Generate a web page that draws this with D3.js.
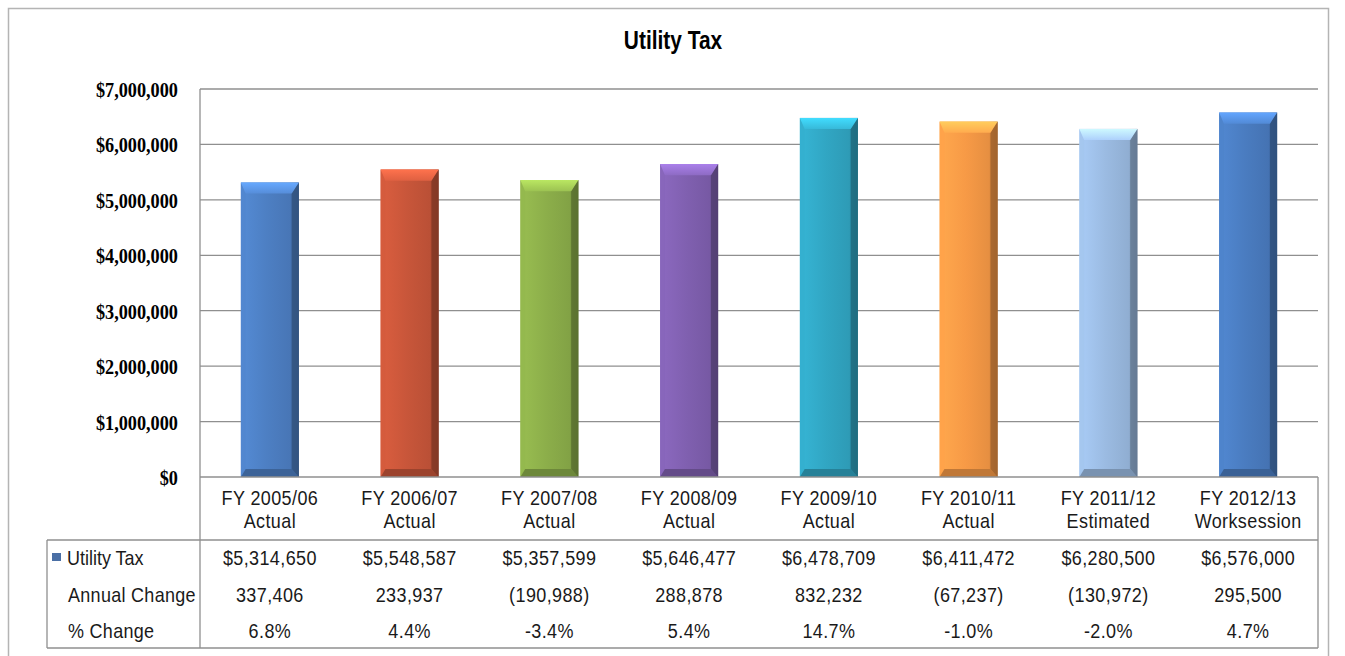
<!DOCTYPE html>
<html>
<head>
<meta charset="utf-8">
<script src="https://cdn.jsdelivr.net/npm/d3@7"></script>
<style>
  html, body { margin: 0; padding: 0; background: #ffffff; }
  svg { display: block; }
</style>
</head>
<body>
<svg id="chart" width="1345" height="656"></svg>
<script>
// Fiscal years and their budget status
const years = ["FY 2005/06", "FY 2006/07", "FY 2007/08", "FY 2008/09", "FY 2009/10", "FY 2010/11", "FY 2011/12", "FY 2012/13"];
const statuses = ["Actual", "Actual", "Actual", "Actual", "Actual", "Actual", "Estimated", "Worksession"];

// Utility tax revenue per year (dollars)
const utilityTax = [5314650, 5548587, 5357599, 5646477, 6478709, 6411472, 6280500, 6576000];
// Change from the prior year (dollars)
const annualChange = [337406, 233937, -190988, 288878, 832232, -67237, -130972, 295500];
// Change from the prior year (percent)
const pctChange = [6.8, 4.4, -3.4, 5.4, 14.7, -1.0, -2.0, 4.7];

// Y axis ticks
const yTicks = [0, 1000000, 2000000, 3000000, 4000000, 5000000, 6000000, 7000000];

// One colour per bar
const barColors = ["#4d7fc3", "#c8563a", "#8cae4a", "#8060b0", "#31a6c3", "#f79a46", "#9bbbe2", "#4a7cc0"];

const svg = d3.select("#chart");
const W = 1345, H = 656;

const plot = { left: 200, right: 1318, top: 89, bottom: 477 };
const table = { left: 47, headerBottom: 540, bottom: 648 };

const x = d3.scaleBand().domain(years).range([plot.left, plot.right]).paddingInner(0).paddingOuter(0);
const y = d3.scaleLinear().domain([0, 7000000]).range([plot.bottom, plot.top]);
const barW = x.bandwidth() * 0.415;

const sansFont = "Arial, 'Liberation Sans', Helvetica, sans-serif";
const serifFont = "'Times New Roman', 'Liberation Serif', serif";
const SY = 1.15;

function label(parent, px, py, str, opts) {
  const o = Object.assign({ size: 18, weight: "normal", family: sansFont, anchor: "middle", sx: 1, sy: SY, fill: "#1a1a1a", ls: 0 }, opts || {});
  return parent.append("text")
    .attr("transform", `translate(${px},${py}) scale(${o.sx},${o.sy})`)
    .attr("text-anchor", o.anchor)
    .attr("dy", "0.36em")
    .attr("font-family", o.family)
    .attr("font-size", o.size)
    .attr("font-weight", o.weight)
    .attr("letter-spacing", o.ls)
    .attr("fill", o.fill)
    .text(str);
}

// Outer chart frame
svg.append("rect")
  .attr("x", 8.5).attr("y", 8.5)
  .attr("width", 1320).attr("height", H)
  .attr("fill", "#ffffff")
  .attr("stroke", "#b4b4b4").attr("stroke-width", 1.5);

// Title
label(svg, 673, 40, "Utility Tax", { size: 22, weight: "bold", sx: 0.95, sy: 1.15, fill: "#000" });

// Gridlines
svg.append("g").selectAll("line")
  .data(yTicks.filter(d => d > 0))
  .join("line")
  .attr("x1", plot.left).attr("x2", plot.right)
  .attr("y1", d => y(d)).attr("y2", d => y(d))
  .attr("stroke", "#8f8f8f").attr("stroke-width", 1.3);

// Y axis labels
const yAxis = svg.append("g")
  .attr("transform", `translate(${plot.left},0)`)
  .call(d3.axisLeft(y).tickValues(yTicks).tickSize(0).tickPadding(23).tickFormat(d3.format("$,")));
yAxis.select(".domain").remove();
yAxis.selectAll("text")
  .attr("font-family", serifFont)
  .attr("font-size", 19)
  .attr("font-weight", "bold")
  .attr("fill", "#000")
  .attr("dy", "0.34em")
  .attr("transform", `scale(0.96,${SY})`);

// Bevelled bar gradients
const defs = svg.append("defs");
barColors.forEach((c, i) => {
  const base = d3.color(c);
  const g = defs.append("linearGradient").attr("id", "body" + i).attr("x1", "0").attr("x2", "1").attr("y1", "0").attr("y2", "0");
  g.append("stop").attr("offset", "0%").attr("stop-color", base.brighter(0.25));
  g.append("stop").attr("offset", "45%").attr("stop-color", base);
  g.append("stop").attr("offset", "85%").attr("stop-color", base.darker(0.2));
  g.append("stop").attr("offset", "100%").attr("stop-color", base.darker(1.1));
  const t = defs.append("linearGradient").attr("id", "top" + i).attr("x1", "0").attr("x2", "0").attr("y1", "0").attr("y2", "1");
  t.append("stop").attr("offset", "0%").attr("stop-color", base.brighter(0.8));
  t.append("stop").attr("offset", "100%").attr("stop-color", base.brighter(0.3));
});

const bev = 8;
const bars = svg.append("g").selectAll("g")
  .data(utilityTax.map((v, i) => ({ v, i, year: years[i] })))
  .join("g");

bars.each(function (d) {
  const g = d3.select(this);
  const base = d3.color(barColors[d.i]);
  const x0 = x(d.year) + (x.bandwidth() - barW) / 2;
  const x1 = x0 + barW;
  const y0 = y(d.v);
  const y1 = y(0);
  const tb = bev * 1.4;
  g.append("rect")
    .attr("x", x0).attr("y", y0).attr("width", barW).attr("height", y1 - y0)
    .attr("fill", `url(#body${d.i})`);
  // left edge
  g.append("polygon")
    .attr("points", [[x0, y0], [x0 + bev * 0.6, y0 + tb], [x0 + bev * 0.6, y1 - bev], [x0, y1]].join(" "))
    .attr("fill", base.brighter(0.15)).attr("opacity", 0.8);
  // right edge
  g.append("polygon")
    .attr("points", [[x1, y0], [x1 - bev * 0.9, y0 + tb], [x1 - bev * 0.9, y1 - bev], [x1, y1]].join(" "))
    .attr("fill", base.darker(1.2)).attr("opacity", 0.85);
  // bottom edge
  g.append("polygon")
    .attr("points", [[x0, y1], [x0 + bev * 0.6, y1 - bev], [x1 - bev * 0.9, y1 - bev], [x1, y1]].join(" "))
    .attr("fill", base.darker(0.7));
  // top face
  g.append("polygon")
    .attr("points", [[x0, y0], [x1, y0], [x1 - bev * 0.9, y0 + tb], [x0 + bev * 0.6, y0 + tb]].join(" "))
    .attr("fill", `url(#top${d.i})`);
});

// Axis and data table rules
const rules = svg.append("g").attr("stroke", "#8f8f8f").attr("stroke-width", 1.3);
rules.append("line").attr("x1", plot.left).attr("x2", plot.right).attr("y1", plot.bottom).attr("y2", plot.bottom);
rules.append("line").attr("x1", table.left).attr("x2", plot.right).attr("y1", table.headerBottom).attr("y2", table.headerBottom);
rules.append("line").attr("x1", table.left).attr("x2", plot.right).attr("y1", table.bottom).attr("y2", table.bottom);
rules.append("line").attr("x1", plot.left).attr("x2", plot.left).attr("y1", plot.top).attr("y2", table.bottom);
rules.append("line").attr("x1", table.left).attr("x2", table.left).attr("y1", table.headerBottom).attr("y2", table.bottom);
rules.append("line").attr("x1", plot.right).attr("x2", plot.right).attr("y1", plot.bottom).attr("y2", table.bottom);

// Category labels
const cats = svg.append("g");
years.forEach((yr, i) => {
  const cx = x(yr) + x.bandwidth() / 2;
  label(cats, cx, 498, yr, { ls: 0.4 });
  label(cats, cx, 521, statuses[i], { ls: 0.4 });
});

// Data table rows
const rowY = [558, 595, 631];
const fmtMoney = d3.format("$,");
const fmtChange = v => v < 0 ? "(" + d3.format(",")(-v) + ")" : d3.format(",")(v);
const fmtPct = v => (v < 0 ? "-" : "") + d3.format(".1f")(Math.abs(v)) + "%";

const tableG = svg.append("g");
// Legend key
tableG.append("rect").attr("x", 52).attr("y", rowY[0] - 5).attr("width", 9).attr("height", 8).attr("fill", "#4a6fa5");
label(tableG, 67, rowY[0], "Utility Tax", { anchor: "start" });
label(tableG, 68, rowY[1], "Annual Change", { anchor: "start", ls: 0.3 });
label(tableG, 68, rowY[2], "% Change", { anchor: "start", ls: 0.3 });

years.forEach((yr, i) => {
  const cx = x(yr) + x.bandwidth() / 2;
  label(tableG, cx, rowY[0], fmtMoney(utilityTax[i]), { ls: 0.4 });
  label(tableG, cx, rowY[1], fmtChange(annualChange[i]), { ls: 0.4 });
  label(tableG, cx, rowY[2], fmtPct(pctChange[i]), { ls: 0.4 });
});
</script>
</body>
</html>
